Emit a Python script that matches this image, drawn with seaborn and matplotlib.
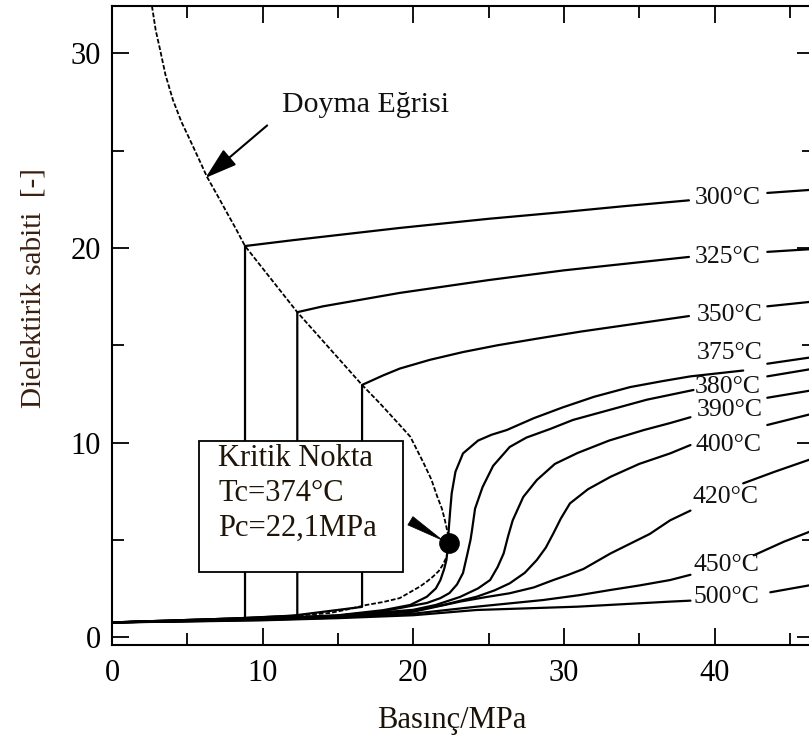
import numpy as np
import pandas as pd
import matplotlib
matplotlib.use("Agg")
import matplotlib.pyplot as plt
from matplotlib.patches import Rectangle
from matplotlib.ticker import MultipleLocator
import seaborn as sns

# ---------------- data ----------------
# saturation curve (liquid branch from top down to critical point, then vapour branch)
sat_p = [2.65, 2.72, 2.9, 3.19, 3.55, 4.05, 4.6, 5.18, 5.75, 6.31, 7.0, 7.64, 8.25, 8.83,
         12.3, 16.6, 17.8, 19.1, 19.8, 20.65, 21.2, 21.6, 21.9, 22.1, 22.3, 22.35,
         22.3, 22.2, 21.95, 21.7, 21.3, 20.9, 20.45, 20.0, 19.1, 18.0, 16.9, 15.7,
         14.5, 12.4, 10.3, 5.0, 0.0]
sat_e = [32.44, 32.1, 31.2, 30.2, 28.9, 27.6, 26.5, 25.55, 24.6, 23.65, 22.7, 21.8, 20.95,
         20.1, 16.7, 12.96, 12.0, 10.9, 10.3, 9.0, 8.1, 7.2, 6.6, 6.0, 5.3, 4.85,
         4.4, 4.1, 3.7, 3.4, 3.1, 2.85, 2.6, 2.4, 2.0, 1.8, 1.65, 1.43,
         1.24, 1.1, 1.0, 0.85, 0.75]

# isotherms: left part (up to the label) and right part (after the label)
p300 = [0, 4, 8.83, 8.83, 12, 19.1, 25, 30, 34, 38.3]
e300 = [0.75, 0.85, 0.97, 20.1, 20.4, 21.03, 21.5, 21.85, 22.15, 22.45]
p300r = [43.5, 46.6]
e300r = [22.83, 23.0]

p325 = [0, 4, 8, 12.3, 12.3, 14, 19.1, 25, 30, 38.3]
e325 = [0.75, 0.85, 0.95, 1.1, 16.7, 17.0, 17.69, 18.35, 18.85, 19.54]
p325r = [43.5, 46.6]
e325r = [19.8, 19.95]

p350 = [0, 4, 8, 12, 16.6, 16.6, 18.0, 19.1, 21.1, 23.3, 25.6, 28.3, 31.1, 34.7, 38.3]
e350 = [0.75, 0.85, 0.95, 1.1, 1.55, 12.96, 13.45, 13.8, 14.25, 14.65, 15.0, 15.35,
        15.7, 16.1, 16.5]
p350r = [43.5, 46.6]
e350r = [17.0, 17.25]

p375 = [0, 5, 10, 15, 18, 19.8, 20.9, 21.5, 21.8, 22.05, 22.2, 22.3, 22.35, 22.45,
        22.55, 22.8, 23.3, 24.3, 25.2, 26.2, 28.0, 29.9, 32.0, 34.4, 36.5, 38.4, 41.9]
e375 = [0.75, 0.84, 0.95, 1.12, 1.38, 1.65, 2.07, 2.5, 2.93, 3.5, 3.96, 4.7, 5.5, 6.5,
        7.39, 8.5, 9.44, 10.1, 10.4, 10.64, 11.25, 11.8, 12.35, 12.85, 13.15, 13.4, 13.7]
p375r = [43.5, 46.6]
e375r = [14.05, 14.4]

p380 = [0, 5, 10, 15, 18, 20.9, 21.8, 22.4, 22.9, 23.3, 23.6, 23.8, 23.9, 24.1, 24.6,
        25.3, 26.4, 27.5, 29.1, 30.6, 32.2, 35.5, 38.6]
e380 = [0.75, 0.84, 0.94, 1.1, 1.33, 1.75, 2.0, 2.26, 2.7, 3.29, 4.3, 5.0, 5.5, 6.6,
        7.71, 8.8, 9.77, 10.25, 10.7, 11.16, 11.5, 12.2, 12.7]
p380r = [43.5, 46.6]
e380r = [13.4, 13.8]

p390 = [0, 5, 10, 15, 20, 21.5, 23.1, 24.3, 25.1, 25.6, 26.0, 26.3, 26.6, 27.3, 28.2,
        29.4, 30.9, 33.0, 35.3, 37.05, 38.4]
e390 = [0.75, 0.83, 0.93, 1.08, 1.4, 1.65, 2.06, 2.5, 2.93, 3.6, 4.3, 5.2, 6.0, 7.2,
        8.07, 8.9, 9.46, 10.1, 10.64, 11.0, 11.3]
p390r = [43.5, 46.6]
e390r = [12.3, 12.7]

p400 = [0, 5, 10, 15, 20, 22, 24.2, 25.4, 26.4, 27.4, 28.2, 28.8, 29.3, 29.8, 30.4,
        31.6, 33.1, 35.0, 37.05, 38.4]
e400 = [0.75, 0.83, 0.92, 1.05, 1.35, 1.65, 2.07, 2.4, 2.76, 3.3, 3.96, 4.6, 5.33, 6.1,
        6.87, 7.6, 8.24, 8.9, 9.44, 9.87]
p400r = [43.5, 46.6]
e400r = [10.9, 11.5]

p420 = [0, 5, 10, 15, 20, 23.1, 24.8, 26.4, 28.0, 29.3, 30.3, 31.3, 32.2, 33.1, 34.4,
        35.7, 37.05, 38.4]
e420 = [0.75, 0.82, 0.9, 1.02, 1.3, 1.82, 2.05, 2.25, 2.55, 2.93, 3.2, 3.5, 3.9, 4.3,
        4.8, 5.3, 6.0, 6.5]
p420r = [41.9, 44.0, 46.6]
e420r = [7.9, 8.5, 9.2]

p450 = [0, 5, 10, 15, 20, 24.2, 26.4, 28.6, 31.0, 33.1, 35.0, 37.05, 38.4]
e450 = [0.75, 0.81, 0.88, 1.0, 1.2, 1.56, 1.73, 1.9, 2.15, 2.42, 2.65, 2.93, 3.2]
p450r = [42.6, 44.6, 46.6]
e450r = [4.2, 4.9, 5.5]

p500 = [0, 5, 10, 15, 20, 24.2, 30.9, 37.05, 38.4]
e500 = [0.75, 0.8, 0.86, 0.97, 1.12, 1.39, 1.56, 1.82, 1.87]
p500r = [43.7, 46.6]
e500r = [2.3, 2.7]

iso_labels = ["300°C", "325°C", "350°C", "375°C", "380°C", "390°C",
              "400°C", "420°C", "450°C", "500°C"]
label_x = [40.87, 40.87, 41.0, 41.03, 40.9, 41.0, 40.9, 40.75, 40.8, 40.8]
label_y = [22.57, 19.54, 16.56, 14.6, 12.85, 11.67, 9.87, 7.2, 3.7, 2.06]

crit_p, crit_e = [22.35], [4.85]
xticks = [0, 10, 20, 30, 40]
yticks = [0, 10, 20, 30]

# ---------------- style ----------------
sns.set_style("ticks")
plt.rcParams["font.family"] = ["Liberation Serif", "DejaVu Serif"]

W, H = 809, 738
fig = plt.figure(figsize=(W / 100, H / 100), dpi=100)
ax = fig.add_axes([112 / W, (H - 645) / H, (814 - 112) / W, (645 - 6) / H])

ink = "black"
lw = 1.6

# saturation curve (dashed)
sns.lineplot(x=sat_p, y=sat_e, sort=False, estimator=None, ax=ax, color=ink,
             lw=1.3, linestyle=(0, (2.6, 1.1)), zorder=3)

left_parts = [(p300, e300), (p325, e325), (p350, e350), (p375, e375), (p380, e380),
              (p390, e390), (p400, e400), (p420, e420), (p450, e450), (p500, e500)]
right_parts = [(p300r, e300r), (p325r, e325r), (p350r, e350r), (p375r, e375r),
               (p380r, e380r), (p390r, e390r), (p400r, e400r), (p420r, e420r),
               (p450r, e450r), (p500r, e500r)]
for (px, ey) in left_parts + right_parts:
    sns.lineplot(x=px, y=ey, sort=False, estimator=None, ax=ax, color=ink, lw=lw,
                 zorder=2)

for txt, lx, ly in zip(iso_labels, label_x, label_y):
    ax.text(lx, ly, txt, ha="center", va="center", fontsize=18.5, color="#111111",
            zorder=5)

# critical point
sns.scatterplot(x=crit_p, y=crit_e, ax=ax, s=190, color=ink, edgecolor=ink, zorder=6)

# box with critical data
ax.add_patch(Rectangle((5.78, 3.35), 13.52, 6.75, facecolor="white", edgecolor=ink,
                       lw=1.3, zorder=4))
box_lines = ["Kritik Nokta", "Tc=374°C", "Pc=22,1MPa"]
box_y = [9.2, 7.4, 5.6]
for t, yy in zip(box_lines, box_y):
    ax.text(7.05, yy, t, ha="left", va="center", fontsize=22, color="#1e1408", zorder=5)

# wedge arrow to the critical point
ax.annotate("", xy=(22.1, 4.9), xytext=(19.65, 6.05),
            arrowprops=dict(arrowstyle="wedge,tail_width=0.7,shrink_factor=0.5",
                            color=ink, lw=0.5), zorder=6)

# saturation curve annotation
ax.text(11.3, 27.35, "Doyma Eğrisi", ha="left", va="center", fontsize=21.5,
        color="#111111")
ax.annotate("", xy=(6.2, 23.6), xytext=(10.3, 26.3),
            arrowprops=dict(arrowstyle="-|>,head_length=0.9,head_width=0.28",
                            mutation_scale=22, color=ink, lw=1.5, shrinkA=0,
                            shrinkB=0))

# axes
ax.set_xlim(0, 46.6)
ax.set_ylim(-0.41, 32.44)
ax.set_xticks(xticks)
ax.set_yticks(yticks)
ax.xaxis.set_minor_locator(MultipleLocator(5))
ax.yaxis.set_minor_locator(MultipleLocator(5))
ax.tick_params(which="both", direction="in", top=True, right=True, width=1.3,
               colors=ink)
ax.tick_params(which="major", length=12)
ax.tick_params(which="minor", length=8.5)
ax.tick_params(axis="x", which="major", labelsize=22, pad=10)
ax.tick_params(axis="y", which="major", labelsize=22, pad=8)
for s in ax.spines.values():
    s.set_linewidth(1.5)
    s.set_color(ink)

ax.set_xlabel("Basınç/MPa", fontsize=22, color="#1a1208")
ax.xaxis.set_label_coords(0.484, -0.095)
ax.set_ylabel("Dielektirik sabiti  [-]", fontsize=21, color="#3a1e0e")
ax.yaxis.set_label_coords(-0.093, 0.559)

fig.savefig("out.png", dpi=100)
